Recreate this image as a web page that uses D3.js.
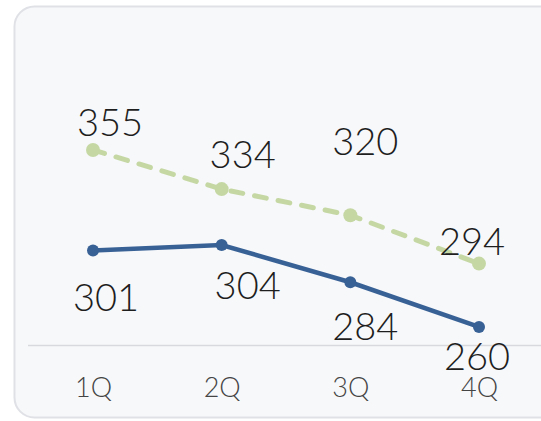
<!DOCTYPE html>
<html>
<head>
<meta charset="utf-8">
<script src="https://cdn.jsdelivr.net/npm/d3@7"></script>
<style>
  body { margin: 0; background: #ffffff; }
  text { font-family: Lato, "Open Sans", sans-serif; font-weight: 300; }
</style>
</head>
<body>
<script>
var quarters = ["1Q", "2Q", "3Q", "4Q"];
var seriesTop = [355, 334, 320, 294];
var seriesBottom = [301, 304, 284, 260];

var width = 541;
var height = 421;

// label nudges (pixels), roughly what the label placer did in the original
var topLabelShift = [[17, -14], [21, -21], [15, -60], [-7, -9]];
var bottomLabelShift = [[13, 60], [26, 54], [15, 58], [-2, 43]];

var svg = d3.select("body").append("svg")
    .attr("width", width)
    .attr("height", height);

//card
svg.append("rect")
    .attr("x", 14.5).attr("y", 6.5)
    .attr("width", 580).attr("height", 411)
    .attr("rx", 20)
    .attr("fill", "#f7f8fa")
    .attr("stroke", "#dfe1e6")
    .attr("stroke-width", 2);

//SCALES
var xScale = d3.scalePoint()
    .domain(quarters)
    .range([93, 479]);

var yScale = d3.scaleLinear()
    .domain([250, 380])
    .range([345.6, 103.4]);

//baseline
svg.append("line")
    .attr("x1", 28).attr("x2", width)
    .attr("y1", 345.5).attr("y2", 345.5)
    .attr("stroke", "#d8d9de")
    .attr("stroke-width", 1.5);

var xAxis = svg.append("g")
    .attr("transform", "translate(0,345.5)")
    .call(d3.axisBottom(xScale).tickSize(0).tickPadding(0));
xAxis.select(".domain").remove();
xAxis.selectAll("text")
    .attr("dy", null)
    .attr("y", 51)
    .attr("font-size", 27)
    .attr("font-family", "Lato, Open Sans, sans-serif")
    .attr("font-weight", 300)
    .attr("fill", "#444444");

var line = d3.line()
    .x(function(d, i){ return xScale(quarters[i]); })
    .y(function(d){ return yScale(d); });

function drawSeries(values, color, lw, r, dash, shifts) {
    var g = svg.append("g");
    g.append("path")
        .attr("d", line(values))
        .attr("fill", "none")
        .attr("stroke", color)
        .attr("stroke-width", lw)
        .attr("stroke-linecap", "round")
        .attr("stroke-dasharray", dash);
    g.selectAll("circle")
        .data(values)
        .enter().append("circle")
        .attr("cx", function(d, i){ return xScale(quarters[i]); })
        .attr("cy", function(d){ return yScale(d); })
        .attr("r", r)
        .attr("fill", color);
    g.selectAll("text")
        .data(values)
        .enter().append("text")
        .attr("x", function(d, i){ return xScale(quarters[i]) + shifts[i][0]; })
        .attr("y", function(d, i){ return yScale(d) + shifts[i][1]; })
        .attr("text-anchor", "middle")
        .attr("font-size", 38)
        .attr("fill", "#1e1e1e")
        .text(function(d){ return d; });
}

drawSeries(seriesTop, "#c5d8a4", 5, 7, "12,12", topLabelShift);
drawSeries(seriesBottom, "#386196", 4.5, 6, null, bottomLabelShift);
</script>
</body>
</html>
